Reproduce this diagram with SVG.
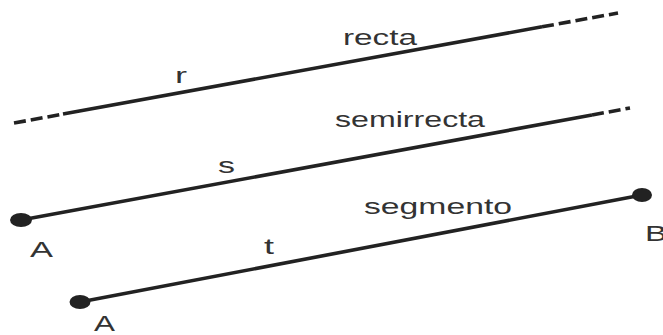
<svg xmlns="http://www.w3.org/2000/svg" width="663" height="335" viewBox="0 0 663 335">
<style>
.ln{stroke:#222;stroke-width:3.6;fill:none;stroke-linecap:butt}
.dash{stroke-dasharray:12 5}
.pt{fill:#222}
text{font-family:"Liberation Sans",Arial,sans-serif;font-size:22px;fill:#333}
</style>
<rect width="663" height="335" fill="#fff"/>
<g id="connectors">
<g id="recta">
<path class="ln dash" d="M14,123 L63,114.1"/>
<path class="ln" d="M63,114.1 L542,26.8"/>
<path class="ln dash" d="M542,26.8 L618,13"/>
</g>
<g id="semirrecta">
<path class="ln" d="M21,220 L592,115"/>
<path class="ln dash" d="M592,115 L630,108"/>
</g>
<g id="segmento">
<path class="ln" d="M80,302 L642,195"/>
</g>
</g>
<g id="pointA1"><ellipse class="pt" cx="21" cy="220" rx="11" ry="7"/><text x="30" y="257" textLength="23" lengthAdjust="spacingAndGlyphs">A</text></g>
<g id="pointA2"><ellipse class="pt" cx="80" cy="302" rx="10.5" ry="7"/><text x="94" y="331" textLength="21" lengthAdjust="spacingAndGlyphs">A</text></g>
<g id="pointB"><ellipse class="pt" cx="642" cy="195" rx="10" ry="7"/><text x="645" y="241" textLength="22" lengthAdjust="spacingAndGlyphs">B</text></g>
<g id="labels">
<text x="343" y="45" textLength="74" lengthAdjust="spacingAndGlyphs">recta</text>
<text x="175" y="83" textLength="12" lengthAdjust="spacingAndGlyphs">r</text>
<text x="335" y="127" textLength="150" lengthAdjust="spacingAndGlyphs">semirrecta</text>
<text x="218" y="173" textLength="17" lengthAdjust="spacingAndGlyphs">s</text>
<text x="364" y="214" textLength="148" lengthAdjust="spacingAndGlyphs">segmento</text>
<text x="264" y="254" textLength="10" lengthAdjust="spacingAndGlyphs">t</text>
</g>
</svg>
